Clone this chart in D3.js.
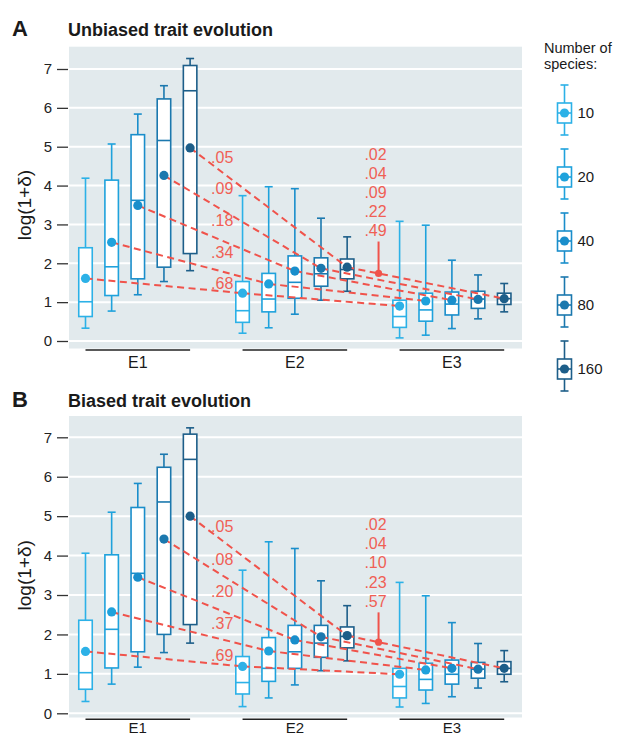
<!DOCTYPE html>
<html>
<head>
<meta charset="utf-8">
<script src="https://cdn.jsdelivr.net/npm/d3@7"></script>
<style>
  html, body { margin: 0; padding: 0; background: #ffffff; }
  svg { display: block; font-family: "Liberation Sans", Arial, Helvetica, sans-serif; }
</style>
</head>
<body>
<svg id="chart" width="624" height="737"></svg>
<script>
// ---- data ----------------------------------------------------------------
const groups = ["E1", "E2", "E3"];
const species = [10, 20, 40, 80, 160];
const speciesColors = ["#2cb1e7", "#1fa2dc", "#1a8ecb", "#1b78ae", "#1d5e89"];
const yTicks = [0, 1, 2, 3, 4, 5, 6, 7];

// Unbiased trait evolution: one row per group (E1, E2, E3), one value per species count
const unbiasedLow    = [[0.33, 0.77, 1.19, 1.53, 1.81], [0.20, 0.34, 0.69, 1.05, 1.28], [0.08, 0.15, 0.32, 0.57, 0.75]];
const unbiasedQ1     = [[0.63, 1.17, 1.60, 1.90, 2.25], [0.48, 0.75, 1.10, 1.41, 1.60], [0.35, 0.51, 0.67, 0.84, 0.94]];
const unbiasedMedian = [[1.01, 1.91, 3.62, 5.16, 6.44], [0.78, 1.08, 1.51, 1.73, 1.84], [0.63, 0.80, 0.95, 1.08, 1.09]];
const unbiasedQ3     = [[2.40, 4.14, 5.31, 6.23, 7.09], [1.53, 1.74, 2.19, 2.14, 2.11], [1.05, 1.23, 1.26, 1.28, 1.23]];
const unbiasedHigh   = [[4.19, 5.07, 5.84, 6.57, 7.27], [3.74, 3.97, 3.92, 3.16, 2.68], [3.08, 2.98, 2.08, 1.70, 1.48]];
const unbiasedMean   = [[1.61, 2.54, 3.49, 4.26, 4.97], [1.23, 1.47, 1.80, 1.87, 1.90], [0.90, 1.03, 1.05, 1.07, 1.09]];
const unbiasedP12    = [".68", ".34", ".18", ".09", ".05"];   // E1 -> E2, per species count
const unbiasedP23    = [".49", ".22", ".09", ".04", ".02"];   // E2 -> E3, per species count

// Biased trait evolution
const biasedLow    = [[0.30, 0.74, 1.17, 1.54, 1.78], [0.17, 0.39, 0.72, 1.08, 1.33], [0.16, 0.25, 0.42, 0.64, 0.80]];
const biasedQ1     = [[0.61, 1.15, 1.56, 2.00, 2.25], [0.49, 0.81, 1.14, 1.42, 1.66], [0.39, 0.59, 0.74, 0.89, 0.99]];
const biasedMedian = [[1.03, 2.13, 3.55, 5.36, 6.44], [0.78, 1.14, 1.56, 1.78, 1.95], [0.68, 0.86, 0.99, 1.12, 1.14]];
const biasedQ3     = [[2.36, 4.02, 5.22, 6.24, 7.08], [1.44, 1.92, 2.23, 2.23, 2.19], [1.14, 1.27, 1.35, 1.29, 1.31]];
const biasedHigh   = [[4.06, 5.10, 5.83, 6.57, 7.24], [3.63, 4.35, 4.18, 3.36, 2.73], [3.32, 2.98, 2.30, 1.77, 1.59]];
const biasedMean   = [[1.57, 2.57, 3.45, 4.42, 5.00], [1.19, 1.58, 1.86, 1.94, 1.97], [0.99, 1.10, 1.14, 1.12, 1.14]];
const biasedP12    = [".69", ".37", ".20", ".08", ".05"];
const biasedP23    = [".57", ".23", ".10", ".04", ".02"];

// ---- layout --------------------------------------------------------------
const RED = "#f0534b";
const RED_TEXT = "#f05f55";
const svg = d3.select("#chart");

const panels = [
  {
    letter: "A", title: "Unbiased trait evolution",
    low: unbiasedLow, q1: unbiasedQ1, median: unbiasedMedian, q3: unbiasedQ3, high: unbiasedHigh, mean: unbiasedMean,
    p12: unbiasedP12, p23: unbiasedP23,
    yRange: [341, 69], bgTop: 46.7, bgBottom: 348.5, groupLineY: 350, groupLabelY: 368, groupFont: 16, titleY: 36
  },
  {
    letter: "B", title: "Biased trait evolution",
    low: biasedLow, q1: biasedQ1, median: biasedMedian, q3: biasedQ3, high: biasedHigh, mean: biasedMean,
    p12: biasedP12, p23: biasedP23,
    yRange: [713.3, 437.3], bgTop: 416, bgBottom: 717.5, groupLineY: 719.3, groupLabelY: 732.5, groupFont: 15, titleY: 406.5
  }
];

const plotLeft = 69, plotRight = 522;
// group centres and within-group offsets
const xGroup = d3.scalePoint().domain(groups).range([137.8, 451.9]);
const xInner = d3.scalePoint().domain(species).range([-52.3, 52.3]);
const xPos = (g, s) => xGroup(g) + xInner(s);
const boxW = 13.5, capW = 8, dotR = 4.6;
const colorOf = d3.scaleOrdinal().domain(species).range(speciesColors);

panels.forEach(p => {
  const y = d3.scaleLinear().domain([0, 7]).range(p.yRange);
  const g = svg.append("g");

  // panel letter and title
  g.append("text").attr("x", 12).attr("y", p.titleY)
    .attr("font-size", 22).attr("font-weight", "bold").attr("fill", "#1a1a1a").text(p.letter);
  g.append("text").attr("x", 68).attr("y", p.titleY)
    .attr("font-size", 18).attr("font-weight", "bold").attr("fill", "#1a1a1a").text(p.title);

  // plot background and grid
  g.append("rect").attr("x", plotLeft).attr("y", p.bgTop)
    .attr("width", plotRight - plotLeft).attr("height", p.bgBottom - p.bgTop)
    .attr("fill", "#e2eaed");
  g.append("g").selectAll("line").data(yTicks).join("line")
    .attr("x1", plotLeft).attr("x2", plotRight)
    .attr("y1", d => y(d)).attr("y2", d => y(d))
    .attr("stroke", "#ffffff").attr("stroke-width", 2);

  // y axis (ticks and labels only)
  const axis = g.append("g").attr("transform", `translate(${plotLeft - 1},0)`)
    .call(d3.axisLeft(y).tickValues(yTicks).tickSize(11).tickPadding(5).tickFormat(d3.format("d")));
  axis.select(".domain").remove();
  axis.selectAll(".tick line").attr("stroke", "#333").attr("stroke-width", 1.3);
  axis.selectAll(".tick text").attr("font-size", 15).attr("fill", "#222")
    .attr("font-family", "\"Liberation Sans\", Arial, sans-serif");

  // y axis title
  const midY = (p.yRange[0] + p.yRange[1]) / 2;
  g.append("text").attr("transform", `translate(31,${midY}) rotate(-90)`)
    .attr("text-anchor", "middle").attr("font-size", 19).attr("fill", "#1a1a1a").text("log(1+δ)");

  // group underlines and labels
  groups.forEach(gr => {
    g.append("line")
      .attr("x1", xPos(gr, species[0])).attr("x2", xPos(gr, species[species.length - 1]))
      .attr("y1", p.groupLineY).attr("y2", p.groupLineY)
      .attr("stroke", "#222").attr("stroke-width", 1.5);
    g.append("text").attr("x", xGroup(gr)).attr("y", p.groupLabelY)
      .attr("text-anchor", "middle").attr("font-size", p.groupFont).attr("fill", "#1a1a1a").text(gr);
  });

  // box-and-whisker records
  const recs = [];
  groups.forEach((gr, gi) => species.forEach((s, si) => {
    recs.push({ group: gr, gi, s, si,
      low: p.low[gi][si], q1: p.q1[gi][si], med: p.median[gi][si],
      q3: p.q3[gi][si], high: p.high[gi][si], mean: p.mean[gi][si] });
  }));

  const boxes = g.append("g").selectAll("g").data(recs).join("g")
    .attr("transform", d => `translate(${xPos(d.group, d.s)},0)`)
    .attr("stroke", d => colorOf(d.s)).attr("stroke-width", 1.6).attr("fill", "none");
  boxes.append("line").attr("y1", d => y(d.high)).attr("y2", d => y(d.q3));
  boxes.append("line").attr("y1", d => y(d.q1)).attr("y2", d => y(d.low));
  boxes.append("line").attr("x1", -capW / 2).attr("x2", capW / 2).attr("y1", d => y(d.high)).attr("y2", d => y(d.high));
  boxes.append("line").attr("x1", -capW / 2).attr("x2", capW / 2).attr("y1", d => y(d.low)).attr("y2", d => y(d.low));
  boxes.append("rect").attr("x", -boxW / 2).attr("width", boxW)
    .attr("y", d => y(d.q3)).attr("height", d => y(d.q1) - y(d.q3)).attr("fill", "#ffffff");
  boxes.append("line").attr("x1", -boxW / 2).attr("x2", boxW / 2)
    .attr("y1", d => y(d.med)).attr("y2", d => y(d.med));

  // dashed connectors between group means of the same species count
  const conn = g.append("g").attr("stroke", RED).attr("stroke-width", 2)
    .attr("stroke-dasharray", "7,4.5").attr("fill", "none");
  species.forEach((s, si) => {
    for (let gi = 0; gi < groups.length - 1; gi++) {
      conn.append("line")
        .attr("x1", xPos(groups[gi], s)).attr("y1", y(p.mean[gi][si]))
        .attr("x2", xPos(groups[gi + 1], s)).attr("y2", y(p.mean[gi + 1][si]));
    }
  });

  // mean points
  g.append("g").selectAll("circle").data(recs).join("circle")
    .attr("cx", d => xPos(d.group, d.s)).attr("cy", d => y(d.mean))
    .attr("r", dotR).attr("fill", d => colorOf(d.s));

  // E1 -> E2 labels, listed from the top connector down
  const last = species.length - 1;
  const lblX = xPos("E1", species[last]) + 21;
  species.slice().reverse().forEach((s, i) => {
    g.append("text").attr("x", lblX).attr("y", y(4.73 - 0.815 * i)).attr("dy", "0.35em")
      .attr("font-size", 16).attr("fill", RED_TEXT).text(p.p12[last - i]);
  });

  // E2 -> E3 marker on the largest-tree connector with its stacked labels
  const t = 0.2;
  const mx = xPos("E2", species[last]) + t * (xPos("E3", species[last]) - xPos("E2", species[last]));
  const my = p.mean[1][last] + t * (p.mean[2][last] - p.mean[1][last]);
  g.append("line").attr("x1", mx).attr("x2", mx).attr("y1", y(my)).attr("y2", y(2.56))
    .attr("stroke", RED).attr("stroke-width", 2);
  g.append("circle").attr("cx", mx).attr("cy", y(my)).attr("r", 3.6).attr("fill", RED);
  species.slice().reverse().forEach((s, i) => {
    g.append("text").attr("x", mx - 3).attr("y", y(4.8 - 0.49 * i)).attr("dy", "0.35em")
      .attr("text-anchor", "middle").attr("font-size", 16).attr("fill", RED_TEXT).text(p.p23[last - i]);
  });
});

// ---- legend --------------------------------------------------------------
const legend = svg.append("g");
legend.append("text").attr("x", 544).attr("y", 53).attr("font-size", 14.5).attr("fill", "#1a1a1a").text("Number of");
legend.append("text").attr("x", 544).attr("y", 69).attr("font-size", 14.5).attr("fill", "#1a1a1a").text("species:");
const legY = d3.scalePoint().domain(species).range([113, 369]);
const items = legend.selectAll("g.item").data(species).join("g").attr("class", "item")
  .attr("transform", s => `translate(564.5,${legY(s)})`);
const glyph = items.append("g").attr("stroke", s => colorOf(s)).attr("stroke-width", 1.6).attr("fill", "none");
glyph.append("line").attr("y1", -28).attr("y2", -10);
glyph.append("line").attr("y1", 10).attr("y2", 22);
glyph.append("line").attr("x1", -capW / 2).attr("x2", capW / 2).attr("y1", -28).attr("y2", -28);
glyph.append("line").attr("x1", -capW / 2).attr("x2", capW / 2).attr("y1", 22).attr("y2", 22);
glyph.append("rect").attr("x", -7).attr("y", -10).attr("width", 14).attr("height", 20).attr("fill", "#ffffff");
glyph.append("line").attr("x1", -7).attr("x2", 7).attr("y1", 0).attr("y2", 0);
items.append("circle").attr("r", dotR).attr("fill", s => colorOf(s));
items.append("text").attr("x", 13).attr("dy", "0.36em").attr("font-size", 15).attr("fill", "#1a1a1a").text(s => s);
</script>
</body>
</html>
